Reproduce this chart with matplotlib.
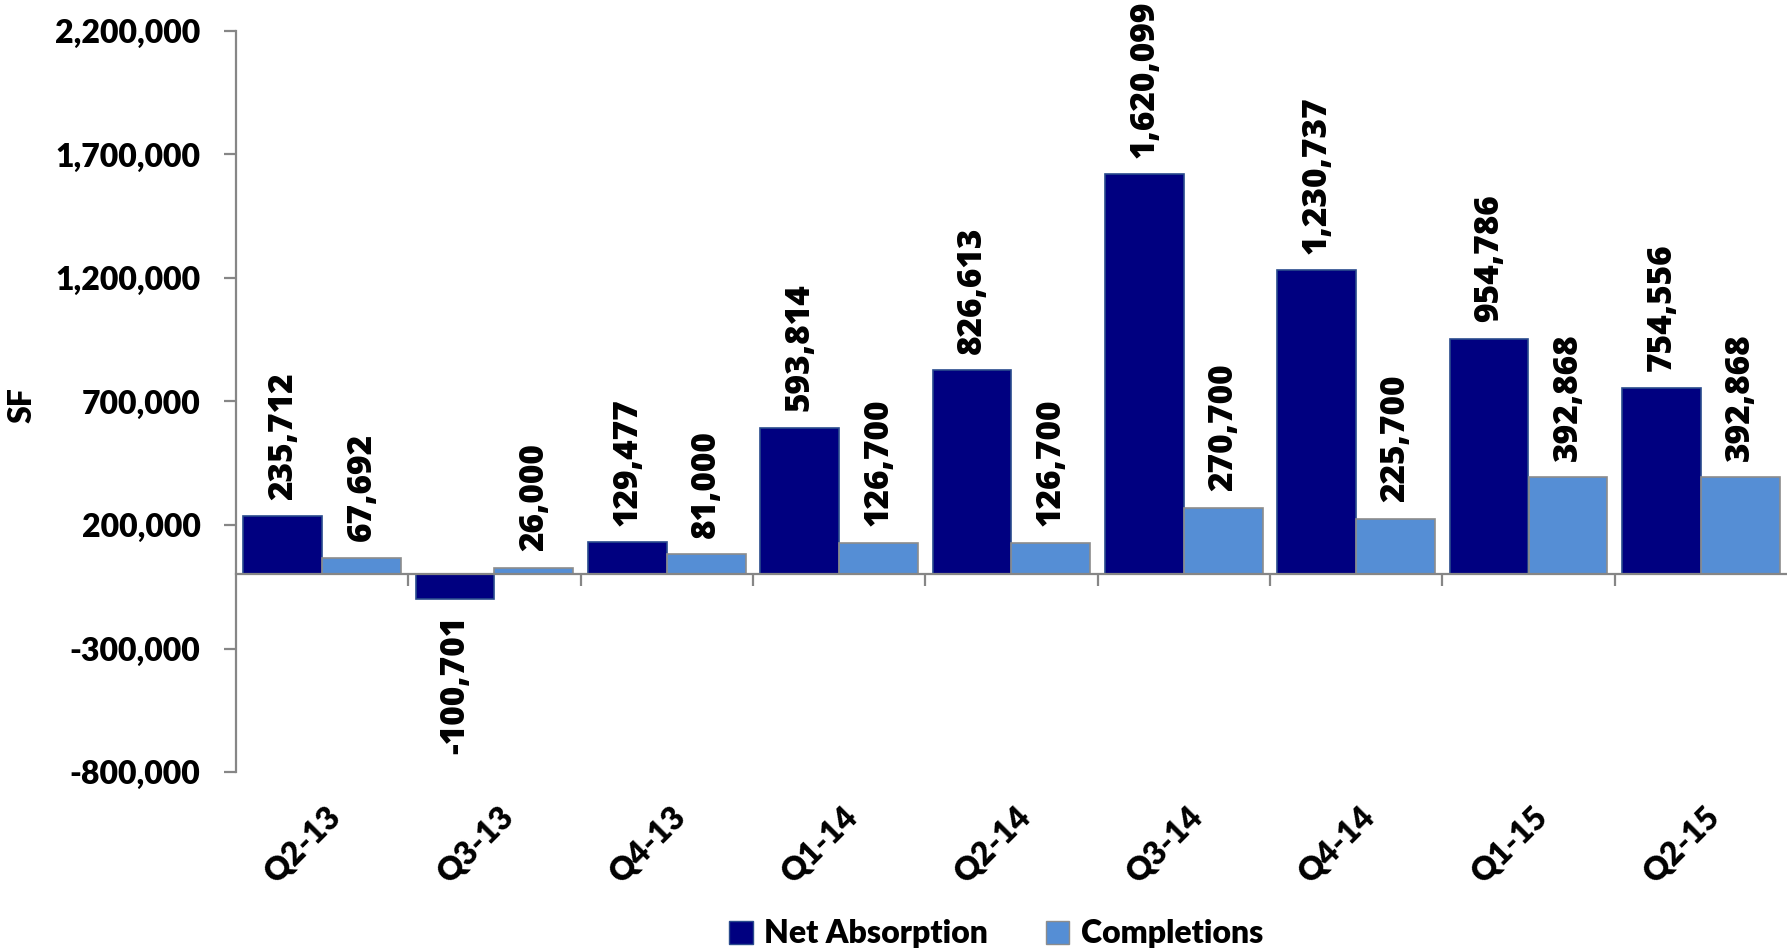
import matplotlib
matplotlib.use("Agg")
import matplotlib.pyplot as plt
from matplotlib.patches import Patch
from matplotlib.ticker import FuncFormatter
import numpy as np

quarters = ["Q2-13", "Q3-13", "Q4-13", "Q1-14", "Q2-14", "Q3-14", "Q4-14", "Q1-15", "Q2-15"]
net_absorption = [235712, -100701, 129477, 593814, 826613, 1620099, 1230737, 954786, 754556]
completions = [67692, 26000, 81000, 126700, 126700, 270700, 225700, 392868, 392868]
y_ticks = [-800000, -300000, 200000, 700000, 1200000, 1700000, 2200000]

NAVY = "#000080"
LIGHT = "#558ED5"
AXIS_GRAY = "#868686"
LABEL_FONT = "Lato"
LABEL_WEIGHT = "heavy"
VALUE_FONT = "Open Sans"

W, H = 1787, 951
fig = plt.figure(figsize=(W / 100, H / 100), dpi=100)
ax = fig.add_axes([236 / W, (H - 772) / H, (W - 236) / W, 741 / H])

x = np.arange(len(quarters))
bw = 0.457
ax.bar(x - bw / 2, net_absorption, bw, color=NAVY, edgecolor="#2A4B8D", linewidth=1.2, zorder=2)
ax.bar(x + bw / 2, completions, bw, color=LIGHT, edgecolor="#8C8C8C", linewidth=1.2, zorder=2)

ax.set_xlim(-0.5, len(quarters) - 0.5)
ax.set_ylim(y_ticks[0], y_ticks[-1])

for spine in ("top", "right"):
    ax.spines[spine].set_visible(False)
ax.spines["bottom"].set_position(("data", 0))
for spine in ("left", "bottom"):
    ax.spines[spine].set_color(AXIS_GRAY)
    ax.spines[spine].set_linewidth(1.6)
    ax.spines[spine].set_zorder(3)

ax.set_yticks(y_ticks)
ax.yaxis.set_major_formatter(FuncFormatter(lambda v, p: f"{int(v):,}"))
ax.tick_params(axis="y", length=8.5, width=1.6, color=AXIS_GRAY, pad=17)
for lbl in ax.get_yticklabels():
    lbl.set_fontfamily(LABEL_FONT)
    lbl.set_fontweight(LABEL_WEIGHT)
    lbl.set_fontsize(23)

ax.set_xticks(x[:-1] + 0.5)
ax.set_xticklabels([])
ax.tick_params(axis="x", length=8.5, width=1.6, color=AXIS_GRAY, direction="out")

# Rotated category labels below the plot area
for i, q in enumerate(quarters):
    ax.annotate(q, xy=(i, 0), xycoords=("data", "axes fraction"),
                xytext=(10, -29), textcoords="offset points",
                rotation=45, rotation_mode="anchor", ha="right", va="center",
                fontfamily=LABEL_FONT, fontweight=LABEL_WEIGHT, fontsize=23)

# Value labels above (or below) each bar
def label_bars(offsets, values):
    for xi, v in zip(offsets, values):
        sign = 1 if v >= 0 else -1
        ax.annotate(f"{v:,}", xy=(xi, v), xytext=(0, 12 * sign), textcoords="offset points",
                    rotation=90, ha="center", va="bottom" if v >= 0 else "top",
                    fontfamily=VALUE_FONT, fontweight="heavy", fontsize=24)

label_bars(x - bw / 2, net_absorption)
label_bars(x + bw / 2, completions)

fig.text(22 / W, 1 - 405 / H, "SF", rotation=90, ha="center", va="center",
         fontfamily=LABEL_FONT, fontweight=LABEL_WEIGHT, fontsize=23)

handles = [Patch(facecolor=NAVY, edgecolor="#2A4B8D", label="Net Absorption"),
           Patch(facecolor=LIGHT, edgecolor="#8C8C8C", label="Completions")]
fig.legend(handles=handles, loc="center", bbox_to_anchor=(996 / W, 17 / H), ncol=2,
           frameon=False, handlelength=0.75, handleheight=0.75, handletextpad=0.35,
           columnspacing=1.8, borderpad=0,
           prop={"family": LABEL_FONT, "weight": LABEL_WEIGHT, "size": 23})

fig.savefig("out.png", dpi=100)
